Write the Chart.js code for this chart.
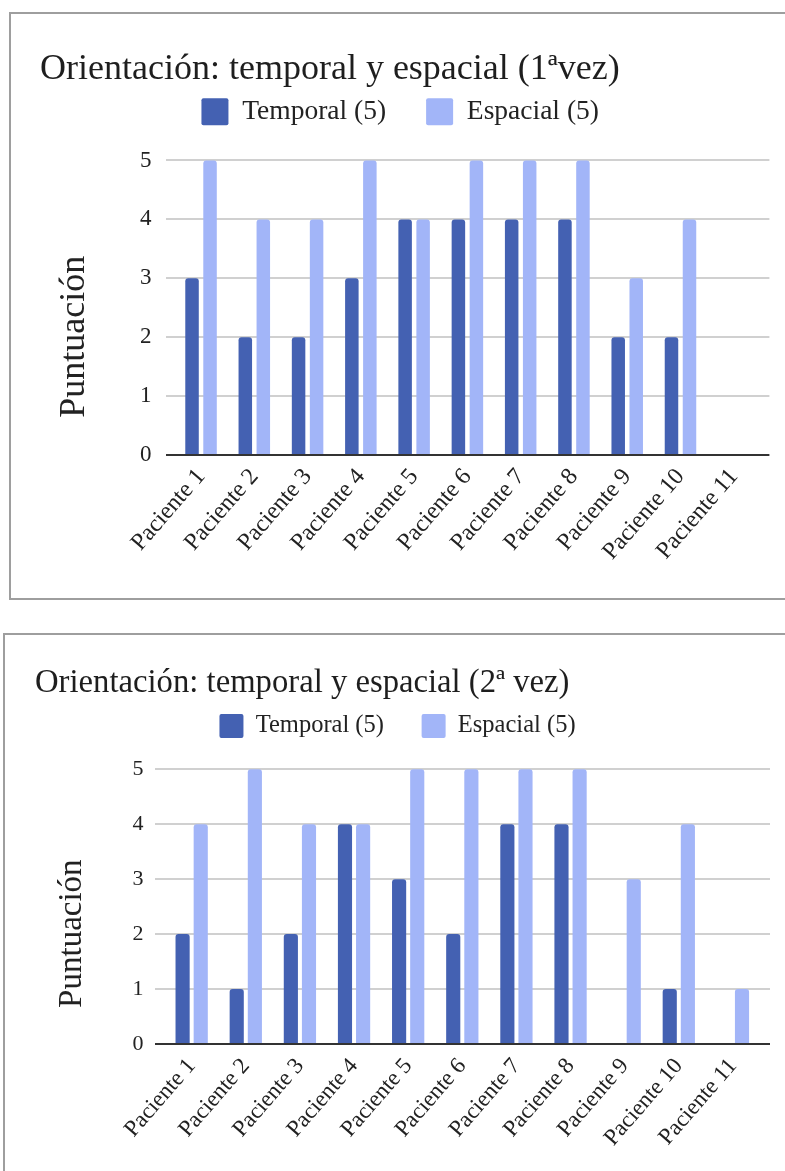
<!DOCTYPE html>
<html>
<head>
<meta charset="utf-8">
<script src="https://cdn.jsdelivr.net/npm/chart.js@4.4.0/dist/chart.umd.min.js"></script>
<style>
  html, body { margin: 0; padding: 0; background: #ffffff; }
  body { position: relative; width: 785px; height: 1171px; overflow: hidden; }
  .frame { position: absolute; border: 2px solid #9e9e9e; box-sizing: border-box; }
  canvas { position: absolute; left: 0; }
</style>
</head>
<body>
<div class="frame" style="left:9px; top:12px; width:820px; height:588px;"></div>
<div class="frame" style="left:3px; top:633px; width:820px; height:600px;"></div>
<canvas id="chart1" width="785" height="600" style="top:0px;"></canvas>
<canvas id="chart2" width="785" height="551" style="top:620px;"></canvas>
<script>
// ---- data ----
const categories = ['Paciente 1', 'Paciente 2', 'Paciente 3', 'Paciente 4', 'Paciente 5', 'Paciente 6',
                    'Paciente 7', 'Paciente 8', 'Paciente 9', 'Paciente 10', 'Paciente 11'];
const seriesNames = ['Temporal (5)', 'Espacial (5)'];
const yTicks = [0, 1, 2, 3, 4, 5];
const axisTitle = 'Puntuación';

const title1 = 'Orientación: temporal y espacial (1ªvez)';
const temporal1 = [3, 2, 2, 3, 4, 4, 4, 4, 2, 2, null];
const espacial1 = [5, 4, 4, 5, 4, 5, 5, 5, 3, 4, null];

const title2 = 'Orientación: temporal y espacial (2ª vez)';
const temporal2 = [2, 1, 2, 4, 3, 2, 4, 4, null, 1, null];
const espacial2 = [4, 5, 4, 4, 5, 5, 5, 5, 3, 4, 1];

// ---- styling ----
const SERIF = "'Liberation Serif', 'Times New Roman', serif";
const DARK = '#4461b2';
const LIGHT = '#a2b5f8';
const TEXT = '#222222';

// Horizontal guide lines (slightly wider than the plot area) and the zero baseline
const guideLines = {
  id: 'guideLines',
  beforeDatasetsDraw(chart, args, o) {
    const { ctx, chartArea: a, scales: { y } } = chart;
    ctx.save();
    ctx.strokeStyle = o.color;
    ctx.lineWidth = o.width;
    y.ticks.forEach(t => {
      if (t.value === 0) return;
      const py = Math.round(y.getPixelForValue(t.value));
      ctx.beginPath();
      ctx.moveTo(a.left - o.extLeft, py);
      ctx.lineTo(a.right + o.extRight, py);
      ctx.stroke();
    });
    ctx.restore();
  },
  afterDatasetsDraw(chart, args, o) {
    const { ctx, chartArea: a, scales: { y } } = chart;
    const py = Math.round(y.getPixelForValue(0));
    ctx.save();
    ctx.strokeStyle = o.baseColor;
    ctx.lineWidth = o.baseWidth;
    ctx.beginPath();
    ctx.moveTo(a.left - o.extLeft, py);
    ctx.lineTo(a.right + o.extRight, py);
    ctx.stroke();
    ctx.restore();
  }
};

// Rotated caption for the value axis
const axisCaption = {
  id: 'axisCaption',
  afterDraw(chart, args, o) {
    const { ctx, scales: { y } } = chart;
    const mid = (y.getPixelForValue(yTicks[0]) + y.getPixelForValue(yTicks[yTicks.length - 1])) / 2;
    ctx.save();
    ctx.translate(o.x, mid + o.dy);
    ctx.rotate(-Math.PI / 2);
    ctx.font = o.size + 'px ' + SERIF;
    ctx.fillStyle = TEXT;
    ctx.textAlign = 'center';
    ctx.textBaseline = 'middle';
    ctx.fillText(o.text, 0, 0);
    ctx.restore();
  }
};

function buildChart(el, title, temporal, espacial, g) {
  const ds = (label, data, color) => ({
    label, data, backgroundColor: color, borderWidth: 0,
    borderRadius: g.radius, borderSkipped: 'start',
    categoryPercentage: g.cat, barPercentage: g.bar
  });
  return new Chart(el, {
    type: 'bar',
    data: {
      labels: categories,
      datasets: [ds(seriesNames[0], temporal, DARK), ds(seriesNames[1], espacial, LIGHT)]
    },
    options: {
      responsive: false,
      animation: false,
      devicePixelRatio: 1,
      layout: { padding: { left: g.left, right: g.right, top: 0, bottom: 0 } },
      plugins: {
        title: {
          display: true, text: title, align: 'start', color: '#1e1e1e',
          font: { family: SERIF, size: g.titleSize, weight: 'normal', lineHeight: 1 },
          padding: { top: g.titlePadTop, bottom: g.titlePadBottom }
        },
        legend: {
          display: true, position: 'top', align: 'center',
          labels: {
            boxWidth: g.box, boxHeight: g.box, padding: g.legendPad, color: TEXT,
            font: { family: SERIF, size: g.legendSize },
            useBorderRadius: true, borderRadius: 2
          }
        },
        tooltip: { enabled: false },
        guideLines: { color: '#d0d0d0', width: 2, baseColor: '#333333', baseWidth: 2,
                      extLeft: g.extLeft, extRight: g.extRight },
        axisCaption: { text: axisTitle, x: g.capX, dy: g.capDy, size: g.capSize }
      },
      scales: {
        x: {
          grid: { display: false, drawTicks: false },
          border: { display: false },
          ticks: {
            color: TEXT, font: { family: SERIF, size: g.xSize },
            minRotation: g.xRot, maxRotation: g.xRot, autoSkip: false, padding: g.xPad
          },
          afterFit(s) { s.height = g.xHeight; s.paddingLeft = 0; s.paddingRight = 0; }
        },
        y: {
          min: 0, max: g.yMax,
          grid: { display: false, drawTicks: false },
          border: { display: false },
          ticks: { color: TEXT, font: { family: SERIF, size: g.ySize }, padding: g.yPad },
          afterBuildTicks(s) { s.ticks = yTicks.map(v => ({ value: v })); },
          afterFit(s) { s.width = g.yWidth; }
        }
      }
    },
    plugins: [guideLines, axisCaption]
  });
}

buildChart(document.getElementById('chart1'), title1, temporal1, espacial1, {
  left: 40, right: 24.6, yWidth: 134.4, yMax: 5.424, xHeight: 145,
  titleSize: 36, titlePadTop: 52, titlePadBottom: -30,
  legendPad: 40, box: 27, legendSize: 27.5,
  xSize: 24, xRot: 49, xPad: 8, ySize: 23, yPad: 23,
  cat: 0.676, bar: 0.75, radius: 3,
  capX: 75, capDy: 29, capSize: 36,
  extLeft: 8.4, extRight: 9
});

buildChart(document.getElementById('chart2'), title2, temporal2, espacial2, {
  left: 35, right: 25, yWidth: 129.6, yMax: 5.382, xHeight: 127,
  titleSize: 32.7, titlePadTop: 46.6, titlePadBottom: -23.2,
  legendPad: 37.7, box: 24, legendSize: 24.5,
  xSize: 23, xRot: 49, xPad: 9, ySize: 22, yPad: 21,
  cat: 0.67, bar: 0.78, radius: 3,
  capX: 72, capDy: 27, capSize: 33,
  extLeft: 9.6, extRight: 10
});
</script>
</body>
</html>
